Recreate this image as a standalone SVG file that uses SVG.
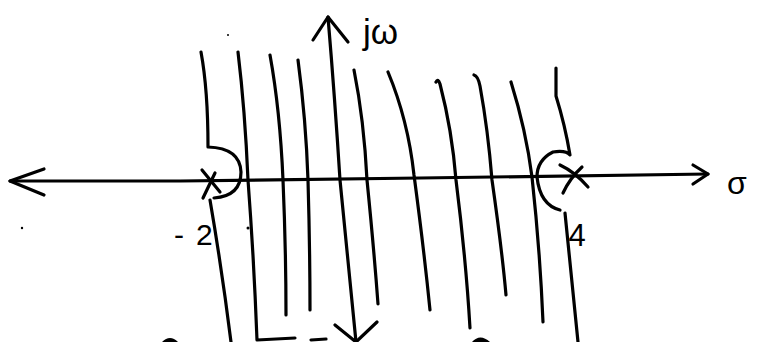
<svg xmlns="http://www.w3.org/2000/svg" width="761" height="342" viewBox="0 0 761 342">
<style>
.s{fill:none;stroke:#000;stroke-width:3.2;stroke-linecap:round;stroke-linejoin:round}
.t{font-family:"Liberation Sans",Arial,sans-serif;fill:#000}
</style>
<rect width="761" height="342" fill="#fff"/>
<g id="axes" class="s">
  <path d="M10,181 L180,181 L420,178 L708,174"/>
  <path d="M44,169 L10,181 L44,195"/>
  <path d="M693,165 L708,174 L693,184"/>
  <path d="M328,17 Q335,100 340,180 Q348,260 356,342"/>
  <path d="M313,40 L328,17 L348,42"/>
  <path d="M335,325 L356,342 L377,322"/>
</g>
<g id="pole-minus2" class="s">
  <path d="M202,170 L220,192"/>
  <path d="M215,173 L203,198"/>
</g>
<g id="pole-4" class="s">
  <path d="M560,165 Q575,172 588,187"/>
  <path d="M582,167 Q570,178 563,193"/>
</g>
<g id="loci" class="s">
  <path d="M201,52 Q208,90 208,147 Q240,148 241,172 Q241,196 214,198"/>
  <path d="M210,200 Q222,270 231,342"/>
  <path d="M238,52 Q245,110 248,180 Q254,260 257,340 L295,338"/>
  <path d="M270,55 Q280,110 283,180 Q286,250 286,315"/>
  <path d="M298,60 Q306,120 308,180 Q310,250 310,310"/>
  <path d="M354,70 Q364,120 367,180 Q374,250 378,304"/>
  <path d="M388,72 Q408,120 414,175 Q424,250 430,310"/>
  <path d="M436,82 Q438,78 440,84 Q452,130 456,180 Q466,260 470,328"/>
  <path d="M474,75 Q478,76 480,86 Q488,130 492,180 Q502,250 506,295"/>
  <path d="M511,82 Q526,130 532,177 Q540,250 543,322"/>
  <path d="M556,68 L556,96 Q565,125 570,155 Q566,150 553,152 Q537,160 537,177 Q540,205 560,210"/>
  <path d="M565,213 Q572,280 578,342"/>
  <path d="M311,340 L326,339"/>
</g>
<g id="marks" fill="#000">
  <path d="M162,342 Q170,334 178,342 Z"/>
  <path d="M472,342 Q480,333 490,342 Z"/>
  <circle cx="228" cy="35" r="1"/>
  <circle cx="22" cy="228" r="1.2"/>
  <circle cx="248" cy="228" r="1.5"/>
</g>
<g id="labels">
  <text class="t" x="363" y="44" font-size="35">jω</text>
  <text class="t" x="727" y="194" font-size="32">σ</text>
  <text class="t" x="174" y="245" font-size="30" letter-spacing="12">-2</text>
  <text class="t" x="577" y="246" font-size="31" text-anchor="middle">4</text>
</g>
</svg>
